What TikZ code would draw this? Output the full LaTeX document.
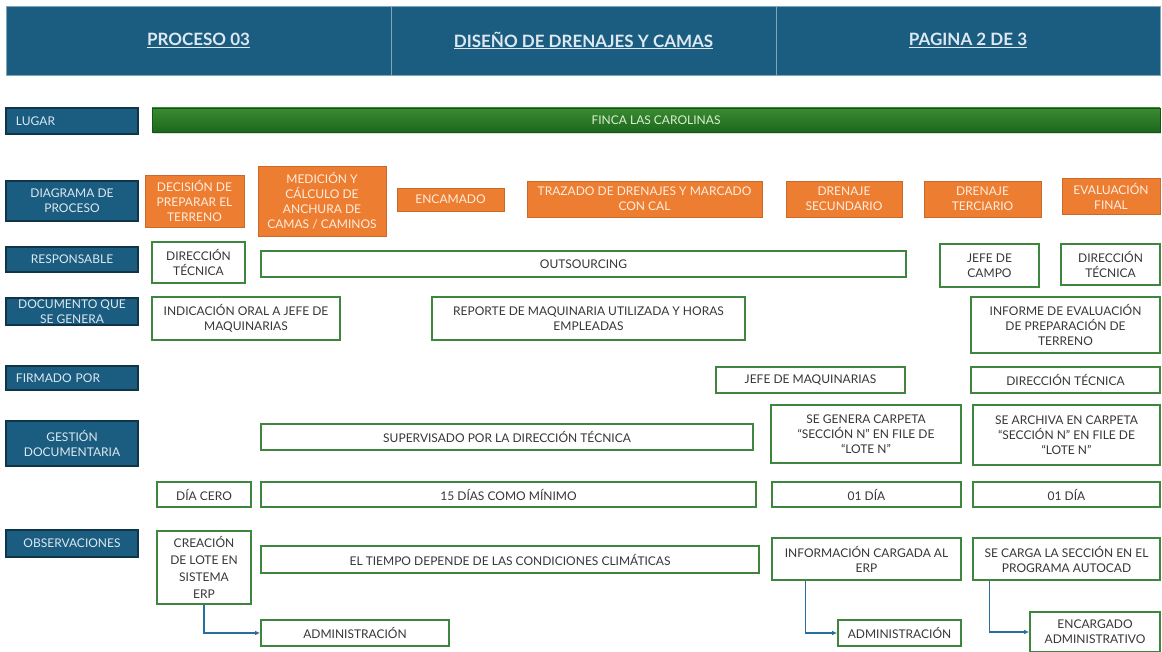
\documentclass[tikz,border=0pt]{standalone}
\usepackage{fontspec}
\setmainfont{Lato}
\usetikzlibrary{arrows.meta,calc,shadows}

\definecolor{hdrblue}{RGB}{27,93,128}
\definecolor{hdrline}{RGB}{16,52,72}
\definecolor{hdrtext}{RGB}{222,232,240}
\definecolor{procorange}{RGB}{237,125,49}
\definecolor{proctext}{RGB}{255,238,224}
\definecolor{boxgreen}{RGB}{62,134,62}
\definecolor{bodytext}{RGB}{55,55,55}
\definecolor{bartop}{RGB}{58,140,50}
\definecolor{barbottom}{RGB}{28,104,28}
\definecolor{bartext}{RGB}{222,238,212}
\definecolor{flowblue}{RGB}{40,110,160}

% box placed by its corners: name, x1, y1, x2, y2, style, text
\newcommand\placebox[7]{%
  \node[#6, minimum width={(#4-#2)*1pt}, minimum height={(#5-#3)*1pt}]
    (#1) at ({(#2+#4)/2},{(#3+#5)/2}) {#7};}

\begin{document}
\begin{tikzpicture}[x=1pt,y=-1pt,
  every node/.style={font=\fontsize{12}{15}\selectfont, inner sep=1pt},
  headcell/.style={fill=hdrblue, draw=hdrblue!55!white, line width=0.8pt,
    text=hdrtext, font=\fontsize{17}{19}\selectfont\bfseries},
  rowlabel/.style={fill=hdrblue, draw=hdrline, line width=1.3pt,
    text=hdrtext, align=center},
  rowlabelL/.style={rowlabel, align=left, text width=112pt, inner xsep=10pt},
  procbox/.style={fill=procorange, draw=procorange!85!black, line width=0.4pt,
    text=proctext, align=center},
  infobox/.style={fill=white, draw=boxgreen, line width=1.6pt,
    text=bodytext, align=center},
  flow/.style={draw=flowblue, line width=1.3pt,
    -{Latex[length=5pt,width=4.5pt]}},
]
\useasboundingbox (0,0) rectangle (1162,652);

% title band
\placebox{hA}{6}{6}{391}{75}{headcell}{\underline{PROCESO 03}}
\placebox{hB}{391}{6}{776}{75}{headcell}{\underline{DISEÑO DE DRENAJES Y CAMAS}}
\placebox{hC}{776}{6}{1160}{75}{headcell}{\underline{PAGINA 2 DE 3}}

% row labels
\placebox{lLugar}{6}{108}{138}{134}{rowlabelL}{LUGAR}
\placebox{lDiag}{6}{181}{138}{221}{rowlabel}{DIAGRAMA DE\\PROCESO}
\placebox{lResp}{6}{247}{138}{272}{rowlabel}{RESPONSABLE}
\placebox{lDoc}{6}{298}{138}{325}{rowlabel}{DOCUMENTO QUE\\SE GENERA}
\placebox{lFirm}{6}{366}{138}{390}{rowlabelL}{FIRMADO POR}
\placebox{lGest}{6}{421}{138}{466}{rowlabel}{GESTIÓN\\DOCUMENTARIA}
\placebox{lObs}{6}{530}{138}{557}{rowlabel}{OBSERVACIONES}

% place bar
\node[minimum width=1008pt, minimum height=24pt, top color=bartop,
  bottom color=barbottom, draw=barbottom!80!black, line width=0.5pt,
  text=bartext,
  drop shadow={shadow xshift=1pt, shadow yshift=-2pt, opacity=0.25}]
  (lugar) at (656,120) {FINCA LAS CAROLINAS};

% process steps
\placebox{p1}{145}{175}{244}{227}{procbox}{DECISIÓN DE\\PREPARAR EL\\TERRENO}
\placebox{p2}{258}{166}{386}{236}{procbox}{MEDICIÓN Y\\CÁLCULO DE\\ANCHURA DE\\CAMAS / CAMINOS}
\placebox{p3}{397}{188}{504}{211}{procbox}{ENCAMADO}
\placebox{p4}{527}{181}{762}{217}{procbox}{TRAZADO DE DRENAJES Y MARCADO\\CON CAL}
\placebox{p5}{786}{181}{902}{217}{procbox}{DRENAJE\\SECUNDARIO}
\placebox{p6}{924}{181}{1041}{217}{procbox}{DRENAJE\\TERCIARIO}
\placebox{p7}{1062}{178}{1160}{214}{procbox}{EVALUACIÓN\\FINAL}

% responsible
\placebox{r1}{152}{242}{245}{283}{infobox}{DIRECCIÓN\\TÉCNICA}
\placebox{r2}{261}{251}{906}{277}{infobox}{OUTSOURCING}
\placebox{r3}{940}{244}{1039}{287}{infobox}{JEFE DE\\CAMPO}
\placebox{r4}{1061}{244}{1160}{285}{infobox}{DIRECCIÓN\\TÉCNICA}

% generated document
\placebox{d1}{152}{297}{340}{340}{infobox}{INDICACIÓN ORAL A JEFE DE\\MAQUINARIAS}
\placebox{d2}{432}{297}{745}{340}{infobox}{REPORTE DE MAQUINARIA UTILIZADA Y HORAS\\EMPLEADAS}
\placebox{d3}{971}{297}{1160}{353}{infobox}{INFORME DE EVALUACIÓN\\DE PREPARACIÓN DE\\TERRENO}

% signed by
\placebox{f1}{716}{367}{905}{393}{infobox}{JEFE DE MAQUINARIAS}
\placebox{f2}{971}{367}{1160}{393}{infobox}{DIRECCIÓN TÉCNICA}

% document management
\placebox{g1}{261}{424}{753}{450}{infobox}{SUPERVISADO POR LA DIRECCIÓN TÉCNICA}
\placebox{g2}{771}{405}{961}{463}{infobox}{SE GENERA CARPETA\\“SECCIÓN N” EN FILE DE\\“LOTE N”}
\placebox{g3}{973}{405}{1160}{465}{infobox}{SE ARCHIVA EN CARPETA\\“SECCIÓN N” EN FILE DE\\“LOTE N”}

% durations
\placebox{t1}{157}{482}{251}{507}{infobox}{DÍA CERO}
\placebox{t2}{261}{482}{756}{507}{infobox}{15 DÍAS COMO MÍNIMO}
\placebox{t3}{772}{482}{961}{507}{infobox}{01 DÍA}
\placebox{t4}{973}{482}{1160}{507}{infobox}{01 DÍA}

% observations
\placebox{o1}{157}{531}{251}{604}{infobox, font=\fontsize{12}{17}\selectfont}{CREACIÓN\\DE LOTE EN\\SISTEMA\\ERP}
\placebox{o2}{261}{546}{759}{573}{infobox}{EL TIEMPO DEPENDE DE LAS CONDICIONES CLIMÁTICAS}
\placebox{o3}{772}{538}{961}{580}{infobox}{INFORMACIÓN CARGADA AL\\ERP}
\placebox{o4}{973}{538}{1160}{580}{infobox}{SE CARGA LA SECCIÓN EN EL\\PROGRAMA AUTOCAD}

\placebox{a1}{261}{620}{449}{646}{infobox}{ADMINISTRACIÓN}
\placebox{a2}{838}{620}{961}{646}{infobox}{ADMINISTRACIÓN}
\placebox{a3}{1030}{612}{1160}{652}{infobox}{ENCARGADO\\ADMINISTRATIVO}

% hand-offs
\draw[flow] (o1.south) |- (a1.west);
\draw[flow] ($(o3.south west)+(34,0)$) |- (a2.west);
\draw[flow] ($(o4.south west)+(17,0)$) |- (a3.west);
\end{tikzpicture}
\end{document}
